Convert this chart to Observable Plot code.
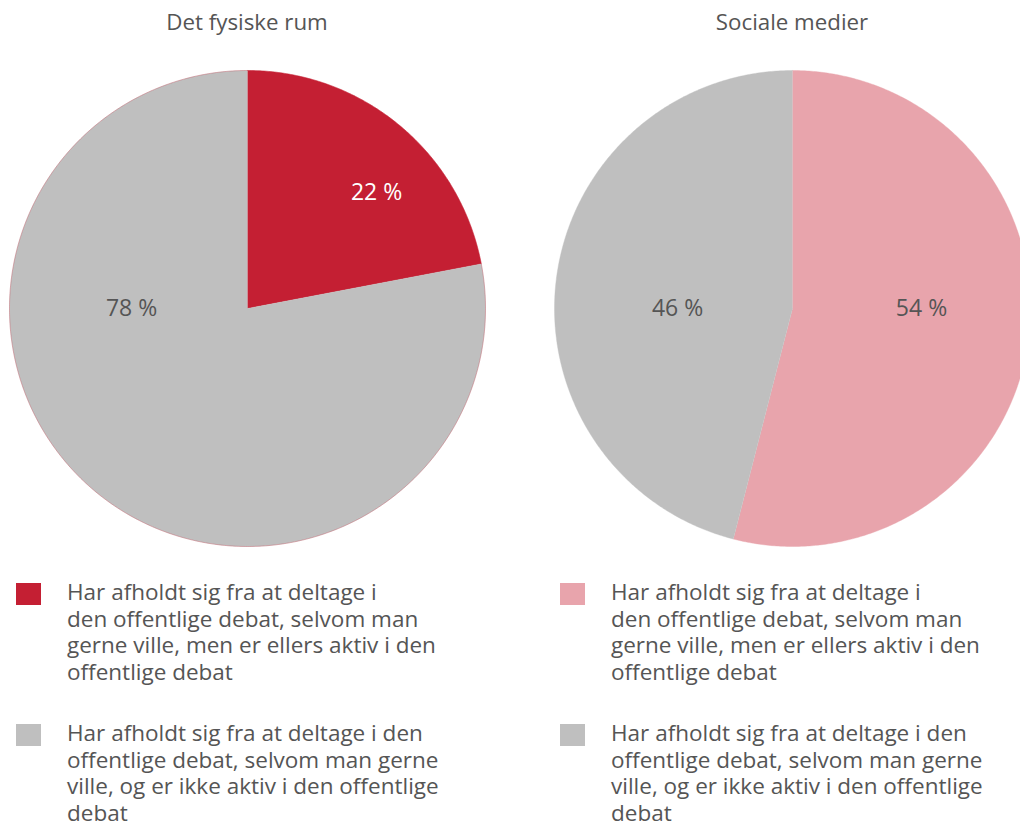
<!DOCTYPE html>
<html>
<head>
<meta charset="utf-8">
<script src="https://cdn.jsdelivr.net/npm/d3@7"></script>
<script src="https://cdn.jsdelivr.net/npm/@observablehq/plot@0.6"></script>
<style>
  html, body { margin: 0; padding: 0; background: #fff; }
  body { width: 1020px; height: 826px; overflow: hidden; position: relative;
         font-family: "Open Sans", sans-serif; color: #555; }
  .title { position: absolute; top: 8px; width: 400px; text-align: center; font-size: 22.3px; line-height: 28px; }
  #chart { position: absolute; left: 0; top: 50px; }
  .legend { position: absolute; top: 579px; width: 470px; }
  .item { position: relative; margin-bottom: 35px; }
  .swatch { position: absolute; width: 25px; height: 22px; top: 4px; }
  .txt { white-space: pre-line; font-size: 22.5px; line-height: 26.5px; }
</style>
</head>
<body>
<div id="root"></div>
<script>
// ---- data ----
const panels = ["Det fysiske rum", "Sociale medier"];
const categories = [
  "Har afholdt sig fra at deltage i\nden offentlige debat, selvom man\ngerne ville, men er ellers aktiv i den\noffentlige debat",
  "Har afholdt sig fra at deltage i den\noffentlige debat, selvom man gerne\nville, og er ikke aktiv i den offentlige\ndebat"
];
const fysiskeRumValues = [22, 78];
const socialeMedierValues = [54, 46];
const fysiskeRumColors = ["#c41f33", "#bfbfbf"];
const socialeMedierColors = ["#e8a4ac", "#bfbfbf"];
const valueLabelColors = [["#ffffff", "#555555"], ["#555555", "#555555"]];

// ---- layout (pixels) ----
const W = 1020, H = 510, top0 = 50;
const R = 238;
const centersPx = [247, 792];
const centerYPx = 308;
// label placement: angle (deg clockwise from 12 o'clock) and fraction of radius
const labelPlacement = [[{a: 48, f: 0.73}, {a: 270, f: 0.487}], [{a: 90, f: 0.542}, {a: 270, f: 0.483}]];

const seriesValues = [fysiskeRumValues, socialeMedierValues];
const seriesColors = [fysiskeRumColors, socialeMedierColors];

// data-space: unit = radius
const cx = centersPx.map(c => (c - centersPx[0]) / R);
const xDomain = [-centersPx[0] / R, (W - centersPx[0]) / R];
const yDomain = [-(top0 + H - centerYPx) / R, (centerYPx - top0) / R];

const pts = [];
const labels = [];
const outline = [];
seriesValues.forEach((vals, p) => {
  const arcs = d3.pie().sort(null)(vals);
  arcs.forEach((arc, i) => {
    const key = p + "-" + i;
    const color = seriesColors[p][i];
    pts.push({key, x: cx[p], y: 0, color});
    const n = Math.max(2, Math.ceil((arc.endAngle - arc.startAngle) / (Math.PI / 360)));
    for (let k = 0; k <= n; k++) {
      const a = arc.startAngle + (arc.endAngle - arc.startAngle) * k / n;
      pts.push({key, x: cx[p] + Math.sin(a), y: Math.cos(a), color});
    }
    const lp = labelPlacement[p][i];
    const la = lp.a * Math.PI / 180;
    labels.push({x: cx[p] + lp.f * Math.sin(la), y: lp.f * Math.cos(la),
                 text: vals[i] + " %", color: valueLabelColors[p][i]});
  });
});
// faint outline on the first pie
for (let k = 0; k <= 720; k++) {
  const a = k / 720 * 2 * Math.PI;
  outline.push({x: cx[0] + Math.sin(a), y: Math.cos(a)});
}

const chart = Plot.plot({
  width: W, height: H, margin: 0,
  x: {domain: xDomain, axis: null},
  y: {domain: yDomain, axis: null},
  color: {type: "identity"},
  style: {fontFamily: "'Open Sans', sans-serif", background: "transparent"},
  marks: [
    Plot.line(pts, {x: "x", y: "y", z: "key", fill: "color", stroke: "color", strokeWidth: 0.4}),
    Plot.line(outline, {x: "x", y: "y", stroke: "#c41f33", strokeOpacity: 0.35, strokeWidth: 0.8}),
    Plot.text(labels, {x: "x", y: "y", text: "text", fill: "color", fontSize: 23, textAnchor: "middle"})
  ]
});
chart.id = "chart";
const root = document.getElementById("root");
root.appendChild(chart);

panels.forEach((t, p) => {
  const d = document.createElement("div");
  d.className = "title";
  d.style.left = (centersPx[p] - 200) + "px";
  d.textContent = t;
  root.appendChild(d);
});

const legendLeft = [16, 560];
seriesColors.forEach((cols, p) => {
  const lg = document.createElement("div");
  lg.className = "legend";
  lg.style.left = legendLeft[p] + "px";
  categories.forEach((c, i) => {
    const it = document.createElement("div");
    it.className = "item";
    const sw = document.createElement("div");
    sw.className = "swatch";
    sw.style.background = cols[i];
    const tx = document.createElement("div");
    tx.className = "txt";
    tx.style.marginLeft = "51px";
    tx.textContent = c;
    it.appendChild(sw); it.appendChild(tx);
    lg.appendChild(it);
  });
  root.appendChild(lg);
});
</script>
</body>
</html>
